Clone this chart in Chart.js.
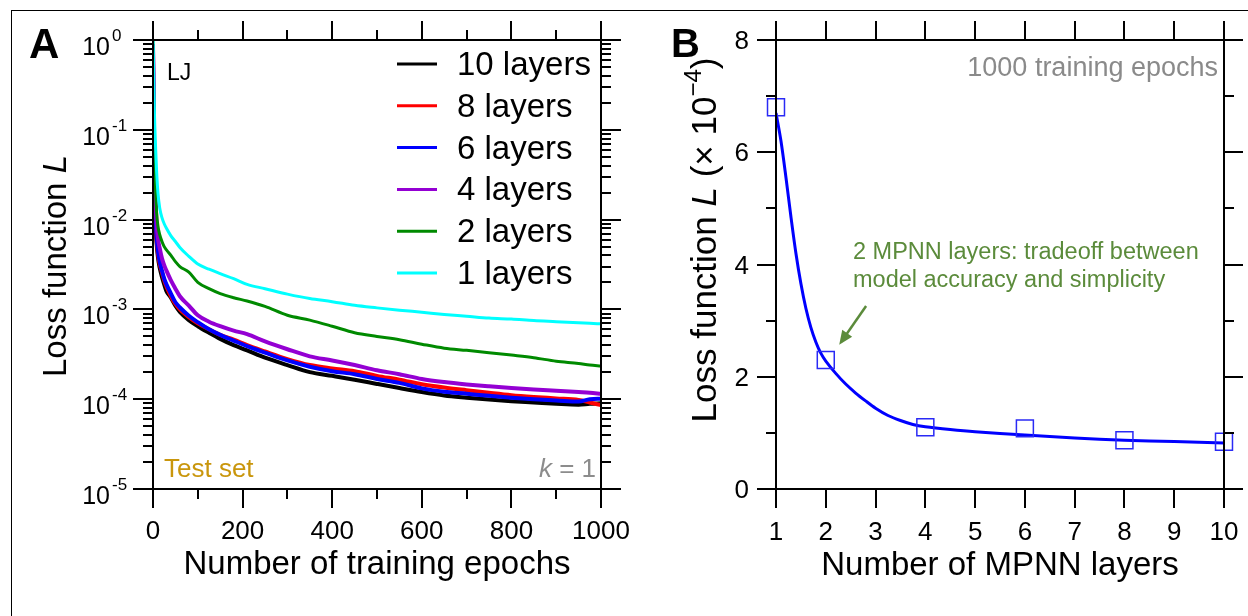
<!DOCTYPE html>
<html>
<head>
<meta charset="utf-8">
<script src="https://cdn.jsdelivr.net/npm/chart.js@4.4.0/dist/chart.umd.min.js"></script>
<style>
    html, body { margin: 0; padding: 0; background: #fff; }
    #wrap { position: relative; width: 1248px; height: 616px; overflow: hidden; }
    #frame { position: absolute; left: 11px; top: 10px; width: 1400px; height: 800px;
             border-top: 1.5px solid #000; border-left: 1.5px solid #000; }
    canvas { position: absolute; left: 0; top: 0; }
</style>
</head>
<body>
<div id="wrap">
    <div id="frame"></div>
    <canvas id="chartA" width="1248" height="616"></canvas>
    <canvas id="chartB" width="1248" height="616"></canvas>
</div>
<script>
// Panel A: loss vs training epochs
const epochs = [0, 1, 2, 3, 4, 6, 8, 11, 15, 20, 25, 30, 40, 50, 60, 80, 100, 125, 150, 180,
    210, 250, 300, 350, 400, 450, 500, 550, 600, 650, 700, 750, 800, 850, 900, 950, 975, 1000];

const loss10 = [0.7, 0.15, 0.05, 0.025, 0.015, 0.008, 0.0055, 0.0038, 0.0029, 0.0023,
    0.0019, 0.0016, 0.00135, 0.0011, 0.00094, 0.00076, 0.00065, 0.00055, 0.00047, 0.0004,
    0.00035, 0.00029, 0.00024, 0.0002, 0.000182, 0.000165, 0.000148, 0.000133, 0.00012, 0.00011,
    0.000104, 0.000099, 0.000095, 0.000092, 0.000089, 0.000087, 0.000089, 0.00009];
const loss8 = [0.8, 0.2, 0.07, 0.035, 0.02, 0.0095, 0.006, 0.0042, 0.0032, 0.0026,
    0.0021, 0.0018, 0.0014, 0.00115, 0.001, 0.00082, 0.0007, 0.0006, 0.00052, 0.00046,
    0.0004, 0.00034, 0.00028, 0.00024, 0.00022, 0.000205, 0.000182, 0.000165, 0.000147, 0.000135,
    0.000126, 0.000118, 0.000111, 0.000106, 0.000102, 0.000098, 0.000092, 0.000086];
const loss6 = [0.8, 0.2, 0.07, 0.035, 0.02, 0.01, 0.0065, 0.0045, 0.0034, 0.0027,
    0.0022, 0.0019, 0.0015, 0.0012, 0.00105, 0.00085, 0.00072, 0.0006, 0.00052, 0.00045,
    0.00039, 0.00033, 0.00027, 0.00023, 0.000205, 0.00019, 0.000168, 0.000152, 0.000132, 0.000121,
    0.000115, 0.000109, 0.000104, 0.0001, 0.000097, 0.000094, 0.0001, 0.000101];
const loss4 = [0.9, 0.3, 0.1, 0.05, 0.03, 0.015, 0.009, 0.0062, 0.0048, 0.0037,
    0.0031, 0.0027, 0.0021, 0.0017, 0.0014, 0.0011, 0.00086, 0.00073, 0.00065, 0.00058,
    0.00053, 0.00044, 0.00036, 0.0003, 0.00027, 0.00024, 0.00021, 0.00019, 0.000168, 0.000155,
    0.000146, 0.000139, 0.000133, 0.000128, 0.000124, 0.00012, 0.000118, 0.000115];
const loss2 = [1.0, 0.4, 0.15, 0.07, 0.04, 0.02, 0.012, 0.0085, 0.0068, 0.0057,
    0.005, 0.0046, 0.004, 0.0034, 0.003, 0.0026, 0.002, 0.0017, 0.0015, 0.00135,
    0.00124, 0.00108, 0.00086, 0.00076, 0.00065, 0.00055, 0.0005, 0.00046, 0.00041, 0.00037,
    0.00035, 0.00033, 0.00031, 0.00029, 0.000265, 0.00025, 0.00024, 0.000234];
const loss1 = [1.0, 0.6, 0.3, 0.17, 0.11, 0.06, 0.035, 0.02, 0.0135, 0.0105,
    0.009, 0.008, 0.0066, 0.0057, 0.0049, 0.0039, 0.0032, 0.0028, 0.0025, 0.0022,
    0.0019, 0.0017, 0.00148, 0.00132, 0.00122, 0.00111, 0.00104, 0.00098, 0.00093, 0.00088,
    0.00084, 0.0008, 0.00078, 0.00075, 0.00073, 0.00071, 0.0007, 0.00069];

const seriesNames = ['10 layers', '8 layers', '6 layers', '4 layers', '2 layers', '1 layers'];
const seriesColors = ['#000000', '#ff0000', '#0000ff', '#9400d3', '#008a00', '#00ffff'];
const seriesValues = [loss10, loss8, loss6, loss4, loss2, loss1];

const xTicksA = [0, 200, 400, 600, 800, 1000];
const xMinorA = [100, 300, 500, 700, 900];
const yExpA = [0, -1, -2, -3, -4, -5];

// Panel B: loss after 1000 epochs vs number of MPNN layers
const layers = [1, 2, 4, 6, 8, 10];
const lossB = [6.8, 2.3, 1.1, 1.08, 0.87, 0.84];
const fitX = [1, 1.1, 1.2, 1.3, 1.4, 1.5, 1.6, 1.7, 1.8, 1.9, 2, 2.2, 2.4, 2.6, 2.8, 3,
    3.25, 3.5, 3.75, 4, 4.5, 5, 6, 7, 8, 9, 10];
const fitY = [6.7, 6.2, 5.55, 4.85, 4.2, 3.66, 3.22, 2.88, 2.62, 2.42, 2.28, 2.06, 1.87, 1.71, 1.57, 1.44,
    1.31, 1.22, 1.15, 1.11, 1.06, 1.02, 0.96, 0.91, 0.87, 0.845, 0.82];

const xTicksB = [1, 2, 3, 4, 5, 6, 7, 8, 9, 10];
const yTicksB = [0, 2, 4, 6, 8];
const yMinorB = [1, 3, 5, 7];

const FONT = '"Liberation Sans", Arial, Helvetica, sans-serif';

function drawTicks(chart, xt, yt) {
    const { ctx, chartArea: a, scales } = chart;
    ctx.save();
    ctx.strokeStyle = '#000';
    ctx.lineWidth = 2;
    ctx.beginPath();
    xt.forEach(([v, len]) => {
        const px = Math.round(scales.x.getPixelForValue(v));
        ctx.moveTo(px, a.bottom); ctx.lineTo(px, a.bottom + len);
        ctx.moveTo(px, a.top); ctx.lineTo(px, a.top - len);
    });
    yt.forEach(([v, len]) => {
        const py = Math.round(scales.y.getPixelForValue(v));
        ctx.moveTo(a.left, py); ctx.lineTo(a.left - len, py);
        ctx.moveTo(a.right, py); ctx.lineTo(a.right + len, py);
    });
    ctx.stroke();
    ctx.strokeRect(a.left, a.top, a.right - a.left, a.bottom - a.top);
    ctx.restore();
}

// rotated title made of parts: [text, font, dy]
function drawRotated(ctx, x, y, parts) {
    ctx.save();
    ctx.translate(x, y);
    ctx.rotate(-Math.PI / 2);
    ctx.textBaseline = 'alphabetic';
    ctx.textAlign = 'left';
    let total = 0;
    parts.forEach(p => { ctx.font = p[1]; total += ctx.measureText(p[0]).width; });
    let cx = -total / 2;
    parts.forEach(p => {
        ctx.font = p[1];
        ctx.fillText(p[0], cx, p[2] || 0);
        cx += ctx.measureText(p[0]).width;
    });
    ctx.restore();
}

const axesA = {
    id: 'axesA',
    afterDatasetsDraw(chart) {
        const { ctx, scales } = chart;
        const xt = xTicksA.map(v => [v, 19]).concat(xMinorA.map(v => [v, 10]));
        const yt = [];
        yExpA.forEach(e => {
            yt.push([Math.pow(10, e), 20]);
            if (e < 0) for (let m = 2; m <= 9; m++) yt.push([m * Math.pow(10, e), 10]);
        });
        drawTicks(chart, xt, yt);

        ctx.save();
        ctx.fillStyle = '#000';
        ctx.font = '26px ' + FONT;
        ctx.textAlign = 'center';
        ctx.textBaseline = 'alphabetic';
        xTicksA.forEach(v => ctx.fillText(String(v), scales.x.getPixelForValue(v), 539));

        yExpA.forEach(e => {
            const py = scales.y.getPixelForValue(Math.pow(10, e));
            ctx.textAlign = 'right';
            ctx.font = '25px ' + FONT;
            ctx.fillText('10', 110, py + 15);
            ctx.textAlign = 'left';
            ctx.font = '17px ' + FONT;
            ctx.fillText(String(e), 112, py + 1);
        });

        ctx.textAlign = 'center';
        ctx.font = '33px ' + FONT;
        ctx.fillText('Number of training epochs', 377, 574);
        drawRotated(ctx, 66, 266, [['Loss function ', '33px ' + FONT], ['L', 'italic 33px ' + FONT]]);

        // legend
        ctx.textAlign = 'left';
        ctx.font = '33px ' + FONT;
        seriesNames.forEach((name, i) => {
            const y = 64 + i * 41.8;
            ctx.strokeStyle = seriesColors[i];
            ctx.lineWidth = 3;
            ctx.beginPath();
            ctx.moveTo(397, y); ctx.lineTo(437, y);
            ctx.stroke();
            ctx.fillStyle = '#000';
            ctx.fillText(name, 457, y + 11);
        });

        ctx.font = '23px ' + FONT;
        ctx.fillText('LJ', 167, 80);
        ctx.fillStyle = '#c9960c';
        ctx.font = '26px ' + FONT;
        ctx.fillText('Test set', 164, 477);
        ctx.fillStyle = '#8c8c8c';
        ctx.textAlign = 'right';
        ctx.fillText(' = 1', 596, 477);
        const w = ctx.measureText(' = 1').width;
        ctx.font = 'italic 26px ' + FONT;
        ctx.fillText('k', 596 - w, 477);

        ctx.fillStyle = '#000';
        ctx.textAlign = 'left';
        ctx.font = 'bold 42px ' + FONT;
        ctx.fillText('A', 29, 58);
        ctx.restore();
    }
};

const axesB = {
    id: 'axesB',
    afterDatasetsDraw(chart) {
        const { ctx, scales } = chart;
        const xt = xTicksB.map(v => [v, 19]);
        const yt = yTicksB.map(v => [v, 19]).concat(yMinorB.map(v => [v, 10]));
        drawTicks(chart, xt, yt);

        ctx.save();
        ctx.fillStyle = '#000';
        ctx.font = '26px ' + FONT;
        ctx.textAlign = 'center';
        ctx.textBaseline = 'alphabetic';
        xTicksB.forEach(v => ctx.fillText(String(v), scales.x.getPixelForValue(v), 540));
        ctx.textAlign = 'right';
        yTicksB.forEach(v => ctx.fillText(String(v), 749, scales.y.getPixelForValue(v) + 9));

        ctx.textAlign = 'center';
        ctx.font = '33px ' + FONT;
        ctx.fillText('Number of MPNN layers', 1000, 575);
        drawRotated(ctx, 716, 240, [
            ['Loss function ', '35px ' + FONT],
            ['L', 'italic 35px ' + FONT],
            [' (\u00d7 10', '35px ' + FONT],
            ['\u22124', '24px ' + FONT, -15],
            [')', '35px ' + FONT]
        ]);

        ctx.fillStyle = '#8a8a8a';
        ctx.textAlign = 'right';
        ctx.font = '27px ' + FONT;
        ctx.fillText('1000 training epochs', 1218, 76);

        ctx.fillStyle = '#5b8b3b';
        ctx.textAlign = 'left';
        ctx.font = '23.5px ' + FONT;
        ctx.fillText('2 MPNN layers: tradeoff between', 853, 259);
        ctx.fillText('model accuracy and simplicity', 853, 287);

        // arrow pointing at the 2-layer point
        const x0 = scales.x.getPixelForValue(2.81), y0 = scales.y.getPixelForValue(3.26);
        const x1 = scales.x.getPixelForValue(2.27), y1 = scales.y.getPixelForValue(2.57);
        const ang = Math.atan2(y1 - y0, x1 - x0);
        ctx.strokeStyle = '#5b8b3b';
        ctx.lineWidth = 2.5;
        ctx.beginPath();
        ctx.moveTo(x0, y0);
        ctx.lineTo(x1 - 10 * Math.cos(ang), y1 - 10 * Math.sin(ang));
        ctx.stroke();
        ctx.beginPath();
        ctx.moveTo(x1, y1);
        ctx.lineTo(x1 - 14 * Math.cos(ang) + 6 * Math.sin(ang), y1 - 14 * Math.sin(ang) - 6 * Math.cos(ang));
        ctx.lineTo(x1 - 14 * Math.cos(ang) - 6 * Math.sin(ang), y1 - 14 * Math.sin(ang) + 6 * Math.cos(ang));
        ctx.closePath();
        ctx.fillStyle = '#5b8b3b';
        ctx.fill();

        ctx.fillStyle = '#000';
        ctx.font = 'bold 40px ' + FONT;
        ctx.fillText('B', 671, 57);
        ctx.restore();
    }
};

const datasetsA = seriesValues.map((vals, i) => ({
    label: seriesNames[i],
    data: epochs.map((e, j) => ({ x: e, y: vals[j] })),
    borderColor: seriesColors[i],
    borderWidth: i < 4 ? 4 : 3,
    pointRadius: 0,
    cubicInterpolationMode: 'monotone',
    order: 6 - i
}));

new Chart(document.getElementById('chartA'), {
    type: 'line',
    data: { datasets: datasetsA },
    options: {
        responsive: false,
        animation: false,
        layout: { padding: { left: 153, right: 647, top: 40, bottom: 127 } },
        plugins: { legend: { display: false }, tooltip: { enabled: false } },
        scales: {
            x: { type: 'linear', min: 0, max: 1000, display: false },
            y: { type: 'logarithmic', min: 1e-5, max: 1, display: false }
        }
    },
    plugins: [axesA]
});

new Chart(document.getElementById('chartB'), {
    type: 'scatter',
    data: {
        datasets: [{
            label: 'MPNN layers',
            data: layers.map((l, i) => ({ x: l, y: lossB[i] })),
            pointStyle: 'rect',
            pointRadius: 12,
            borderColor: '#2a2af5',
            backgroundColor: 'rgba(0,0,0,0)',
            borderWidth: 1.5,
            clip: false,
            order: 0
        }, {
            label: 'fit',
            data: fitX.map((x, i) => ({ x: x, y: fitY[i] })),
            showLine: true,
            pointRadius: 0,
            borderColor: '#0000ff',
            borderWidth: 3,
            tension: 0.3,
            order: 1
        }]
    },
    options: {
        responsive: false,
        animation: false,
        layout: { padding: { left: 776, right: 24, top: 40, bottom: 127 } },
        plugins: { legend: { display: false }, tooltip: { enabled: false } },
        scales: {
            x: { type: 'linear', min: 1, max: 10, display: false },
            y: { type: 'linear', min: 0, max: 8, display: false }
        }
    },
    plugins: [axesB]
});
</script>
</body>
</html>
